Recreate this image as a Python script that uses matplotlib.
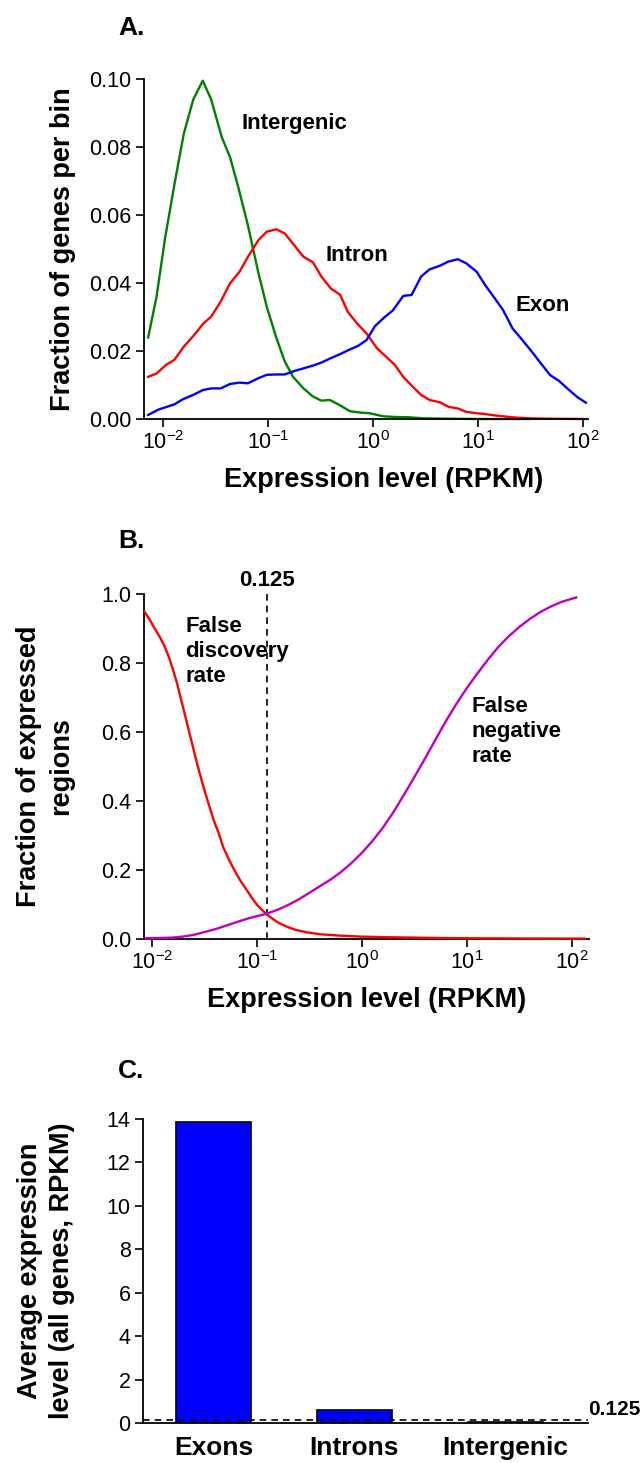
#!/usr/bin/env python3

import numpy as np
import matplotlib as mpl
mpl.use("Agg")
import matplotlib.pyplot as plt
import matplotlib.transforms as mtransforms

plt.rcParams['font.family'] = ['Liberation Sans', 'DejaVu Sans']
plt.rcParams['mathtext.fontset'] = 'custom'
plt.rcParams['mathtext.rm'] = 'Liberation Sans'

# ---- panel A: distribution of expression levels (log10 RPKM, fraction) ----
intergenic_log = [-2.14, -2.06, -1.98, -1.89, -1.80, -1.71, -1.62, -1.54, -1.44, -1.36,
                  -1.28, -1.19, -1.09, -1.01, -0.92, -0.84, -0.76, -0.66, -0.57, -0.49,
                  -0.41, -0.31, -0.22, -0.12, -0.03, 0.10, 0.21, 0.35, 0.48, 0.70, 1.02, 1.50]
intergenic_frac = [0.024, 0.036, 0.053, 0.069, 0.084, 0.094, 0.0995, 0.094, 0.083, 0.077,
                   0.068, 0.057, 0.043, 0.033, 0.024, 0.017, 0.0124, 0.009, 0.0066, 0.0054,
                   0.0056, 0.0040, 0.0023, 0.0019, 0.0017, 0.0008, 0.0006, 0.0005, 0.0002, 0.0001, 0.0, 0.0]

intron_log = [-2.14, -2.06, -1.97, -1.89, -1.80, -1.71, -1.62, -1.54, -1.45, -1.36,
              -1.27, -1.19, -1.09, -1.01, -0.92, -0.84, -0.75, -0.66, -0.57, -0.49,
              -0.40, -0.31, -0.24, -0.15, -0.06, 0.04, 0.11, 0.21, 0.29, 0.38,
              0.46, 0.54, 0.64, 0.72, 0.81, 0.89, 0.99, 1.08, 1.18, 1.27,
              1.37, 1.50, 1.65, 2.03]
intron_frac = [0.0124, 0.0134, 0.0159, 0.0174, 0.0213, 0.0244, 0.0279, 0.0301, 0.0345, 0.0399,
               0.0433, 0.0477, 0.0526, 0.0551, 0.0558, 0.0546, 0.0512, 0.0477, 0.0461, 0.0419,
               0.0384, 0.0365, 0.0316, 0.0281, 0.0252, 0.0208, 0.0188, 0.0159, 0.0124, 0.0095,
               0.0071, 0.0056, 0.0049, 0.0036, 0.0031, 0.0021, 0.0017, 0.0014, 0.0010, 0.0007,
               0.0004, 0.0002, 0.0001, 0.0]

exon_log = [-2.14, -2.04, -1.96, -1.89, -1.81, -1.71, -1.62, -1.54, -1.45, -1.36,
            -1.27, -1.19, -1.09, -1.01, -0.92, -0.84, -0.75, -0.66, -0.57, -0.49,
            -0.40, -0.31, -0.23, -0.14, -0.06, 0.02, 0.11, 0.19, 0.29, 0.37,
            0.46, 0.54, 0.64, 0.72, 0.81, 0.89, 0.99, 1.07, 1.15, 1.24,
            1.33, 1.42, 1.51, 1.60, 1.69, 1.77, 1.86, 1.95, 2.03]
exon_frac = [0.0012, 0.0028, 0.0036, 0.0043, 0.0058, 0.0071, 0.0085, 0.0090, 0.0090, 0.0103,
             0.0107, 0.0105, 0.0120, 0.0130, 0.0131, 0.0131, 0.0141, 0.0149, 0.0157, 0.0166,
             0.0179, 0.0191, 0.0203, 0.0215, 0.0232, 0.0273, 0.0299, 0.0319, 0.0362, 0.0365,
             0.0419, 0.0440, 0.0451, 0.0463, 0.0470, 0.0458, 0.0433, 0.0394, 0.0360, 0.0321,
             0.0267, 0.0234, 0.0200, 0.0164, 0.0129, 0.0113, 0.0088, 0.0064, 0.0048]

# ---- panel B: error rates vs threshold ----
fdr_log = [-2.07, -2.03, -1.98, -1.93, -1.88, -1.84, -1.80, -1.76, -1.73, -1.69,
           -1.65, -1.61, -1.57, -1.53, -1.49, -1.45, -1.41, -1.36, -1.32, -1.27,
           -1.22, -1.16, -1.10, -1.05, -1.00, -0.95, -0.91, -0.85, -0.79, -0.71,
           -0.63, -0.52, -0.40, -0.20, -0.01, 0.20, 0.46, 0.70, 1.01, 1.50, 2.12]
fdr_val = [0.948, 0.930, 0.903, 0.878, 0.849, 0.818, 0.781, 0.740, 0.703, 0.655,
           0.606, 0.557, 0.508, 0.463, 0.421, 0.381, 0.343, 0.303, 0.265, 0.232,
           0.202, 0.170, 0.143, 0.120, 0.099, 0.084, 0.072, 0.058, 0.046, 0.035,
           0.026, 0.019, 0.0136, 0.0095, 0.0068, 0.0052, 0.0040, 0.0030, 0.0020, 0.0014, 0.0010]

fnr_log = [-2.06, -1.90, -1.80, -1.70, -1.60, -1.50, -1.40, -1.30, -1.20, -1.10,
           -1.00, -0.91, -0.80, -0.70, -0.60, -0.50, -0.40, -0.30, -0.20, -0.10,
           0.00, 0.10, 0.20, 0.30, 0.40, 0.50, 0.60, 0.70, 0.80, 0.90,
           1.00, 1.10, 1.20, 1.30, 1.40, 1.50, 1.60, 1.70, 1.80, 1.90, 2.04]
fnr_val = [0.002, 0.003, 0.004, 0.007, 0.012, 0.020, 0.028, 0.038, 0.048, 0.058,
           0.066, 0.073, 0.085, 0.099, 0.115, 0.134, 0.153, 0.172, 0.194, 0.220,
           0.250, 0.284, 0.323, 0.368, 0.418, 0.470, 0.523, 0.578, 0.632, 0.682,
           0.728, 0.770, 0.810, 0.847, 0.878, 0.905, 0.928, 0.948, 0.964, 0.977, 0.990]

threshold = 0.125

# ---- panel C: average expression ----
regions = ["Exons", "Introns", "Intergenic"]
avg_expr = [13.87, 0.58, 0.06]

log_ticks = [1e-2, 1e-1, 1e0, 1e1, 1e2]
log_labels = [r'$\mathregular{10^{-2}}$', r'$\mathregular{10^{-1}}$', r'$\mathregular{10^{0}}$',
              r'$\mathregular{10^{1}}$', r'$\mathregular{10^{2}}$']

TICK_FS = 15.5
LAB_FS = 19.5
ANN_FS = 16


def style_axis(ax):
    for s in ['top', 'right']:
        ax.spines[s].set_visible(False)
    for s in ['left', 'bottom']:
        ax.spines[s].set_linewidth(1.3)
    ax.tick_params(direction='out', length=6, width=1.2, labelsize=TICK_FS, pad=3)
    ax.tick_params(which='minor', length=0)


fig = plt.figure(figsize=(6.41, 14.63), dpi=100)

# A
axA = fig.add_axes([0.2246, 0.7136, 0.6927, 0.2324])
axA.plot(10 ** np.array(intergenic_log), intergenic_frac, color='#008000', lw=1.7, clip_on=False)
axA.plot(10 ** np.array(intron_log), intron_frac, color='#ff0000', lw=1.7, clip_on=False)
axA.plot(10 ** np.array(exon_log), exon_frac, color='#0000ff', lw=1.7, clip_on=False)
axA.set_xscale('log')
axA.set_xlim(10 ** -2.18, 10 ** 2.05)
axA.set_ylim(0, 0.10)
axA.set_xticks(log_ticks)
axA.set_xticklabels(log_labels)
axA.set_yticks([0, 0.02, 0.04, 0.06, 0.08, 0.10])
axA.set_yticklabels(['0.00', '0.02', '0.04', '0.06', '0.08', '0.10'])
style_axis(axA)
axA.set_ylabel('Fraction of genes per bin', fontsize=LAB_FS, fontweight='bold')
axA.yaxis.set_label_coords(-0.153, 0.5)
axA.set_xlabel('Expression level (RPKM)', fontsize=LAB_FS, fontweight='bold')
axA.xaxis.set_label_coords(0.54, -0.14)
axA.text(10 ** -1.25, 0.0868, 'Intergenic', fontsize=ANN_FS, fontweight='bold', va='center')
axA.text(10 ** -0.45, 0.048, 'Intron', fontsize=ANN_FS, fontweight='bold', va='center')
axA.text(10 ** 1.36, 0.0335, 'Exon', fontsize=ANN_FS, fontweight='bold', va='center')

# B
axB = fig.add_axes([0.2246, 0.3582, 0.694, 0.2358])
axB.plot(10 ** np.array(fdr_log), fdr_val, color='#ff0000', lw=1.7, clip_on=False, zorder=3)
axB.plot(10 ** np.array(fnr_log), fnr_val, color='#c000c0', lw=1.7, clip_on=False, zorder=3)
axB.plot([threshold, threshold], [0, 1.0], color='black', lw=1.2, ls=(0, (4, 3)), clip_on=False)
axB.set_xscale('log')
axB.set_xlim(10 ** -2.076, 10 ** 2.16)
axB.set_ylim(0, 1.0)
axB.set_xticks(log_ticks)
axB.set_xticklabels(log_labels)
axB.set_yticks([0, 0.2, 0.4, 0.6, 0.8, 1.0])
axB.set_yticklabels(['0.0', '0.2', '0.4', '0.6', '0.8', '1.0'])
style_axis(axB)
axB.set_ylabel('Fraction of expressed\nregions', fontsize=LAB_FS, fontweight='bold',
               linespacing=1.3)
axB.yaxis.set_label_coords(-0.158, 0.5)
axB.set_xlabel('Expression level (RPKM)', fontsize=LAB_FS, fontweight='bold')
axB.xaxis.set_label_coords(0.50, -0.14)
axB.text(threshold, 1.01, '0.125', fontsize=ANN_FS, fontweight='bold', ha='center', va='bottom')
axB.text(10 ** -1.68, 0.935, 'False\ndiscovery\nrate', fontsize=ANN_FS, fontweight='bold',
         va='top', linespacing=1.25)
axB.text(10 ** 1.04, 0.705, 'False\nnegative\nrate', fontsize=ANN_FS, fontweight='bold',
         va='top', linespacing=1.25)

# C
axC = fig.add_axes([0.2231, 0.02734, 0.694, 0.2078])
pos = [0, 1.0, 2.07]
axC.bar(pos, avg_expr, width=0.53, color='#0000ff', edgecolor='black', lw=1.2, zorder=2)
axC.axhline(threshold, color='black', lw=1.2, ls=(0, (4, 3)), zorder=3)
axC.set_xlim(-0.5, 2.656)
axC.set_ylim(0, 14)
axC.set_yticks(range(0, 15, 2))
axC.set_xticks(pos)
axC.set_xticklabels(regions, fontsize=19, fontweight='bold')
style_axis(axC)
axC.tick_params(axis='x', length=0, pad=9, labelsize=19)
axC.set_ylabel('Average expression\nlevel (all genes, RPKM)', fontsize=LAB_FS, fontweight='bold',
               linespacing=1.3)
axC.yaxis.set_label_coords(-0.153, 0.5)
tr = mtransforms.blended_transform_factory(axC.transAxes, axC.transData)
axC.text(1.0, 0.2, '0.125', transform=tr, fontsize=15, fontweight='bold', ha='left', va='bottom',
         clip_on=False)

# panel letters
fig.text(118 / 641, 1 - 28 / 1463, 'A.', fontsize=19, fontweight='bold', va='center')
fig.text(118 / 641, 1 - 541 / 1463, 'B.', fontsize=19, fontweight='bold', va='center')
fig.text(118 / 641, 1 - 1071 / 1463, 'C.', fontsize=19, fontweight='bold', va='center')

fig.savefig('out.png', dpi=100)
